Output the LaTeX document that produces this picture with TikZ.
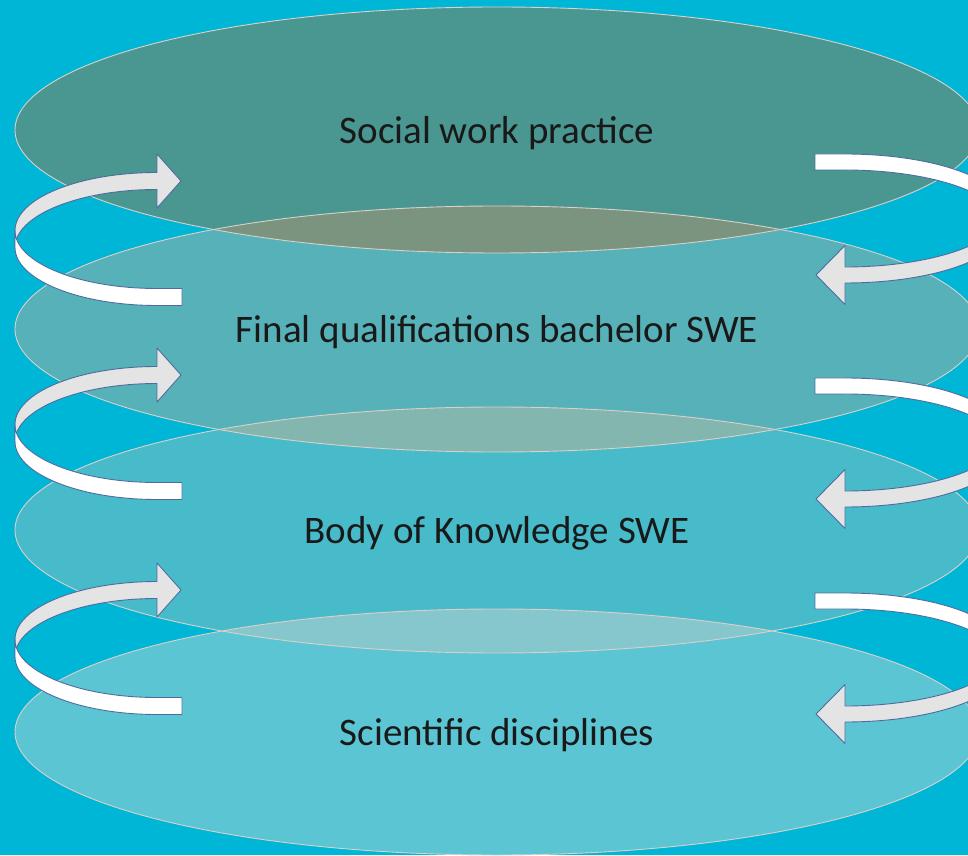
\documentclass[tikz,border=0pt]{standalone}
\usepackage{fontspec}
\setmainfont{Carlito}
\usepackage{xcolor}
\definecolor{oceanbg}{HTML}{00B6D6}
\definecolor{layA}{HTML}{4A9690}
\definecolor{layB}{HTML}{56B1B8}
\definecolor{layC}{HTML}{47BBCA}
\definecolor{layD}{HTML}{5BC5D3}
\definecolor{lensAB}{HTML}{7A9480}
\definecolor{lensBC}{HTML}{84B6B0}
\definecolor{lensCD}{HTML}{86C7CD}
\definecolor{rimline}{HTML}{D9D0CA}
\definecolor{bandgrey}{HTML}{E4E4E4}
\definecolor{bandedge}{HTML}{4E6C9E}
\newcommand{\layerfont}{\fontsize{39}{44}\selectfont}

\begin{document}
\begin{tikzpicture}[x=1pt, y=1pt, font=\layerfont,
  disc/.style={x radius=482, y radius=123},
  rim/.style={draw=rimline, line width=0.9pt},
  label/.style={text=black!90, yshift=-3pt},
  backband/.style={fill=bandgrey, draw=bandedge, line width=0.9pt, line join=round},
  frontband/.style={fill=white, draw=bandedge, line width=0.9pt, line join=round},
  lbow/.style={x radius=142, y radius=58},
  rbow/.style={x radius=160, y radius=56.5}]
\useasboundingbox (0,0) rectangle (968,855);
\clip (0,0) rectangle (968,855);
\fill[oceanbg] (0,0) rectangle (968,855);

% the four layers
\coordinate (cA) at (497,725);
\coordinate (cB) at (497,526);
\coordinate (cC) at (497,325);
\coordinate (cD) at (497,123);
\fill[layA] (cA) ellipse [disc];
\fill[layB] (cB) ellipse [disc];
\fill[layC] (cC) ellipse [disc];
\fill[layD] (cD) ellipse [disc];

% where two layers overlap
\begin{scope}
\clip (cA) ellipse [disc];
\fill[lensAB] (cB) ellipse [disc];
\end{scope}
\begin{scope}
\clip (cB) ellipse [disc];
\fill[lensBC] (cC) ellipse [disc];
\end{scope}
\begin{scope}
\clip (cC) ellipse [disc];
\fill[lensCD] (cD) ellipse [disc];
\end{scope}

\foreach \c in {cA,cB,cC,cD}
  \draw[rim] (\c) ellipse [disc];

\node[label] (practice) at (cA) {Social work practice};
\node[label] (quals) at (cB) {Final qualifications bachelor SWE};
\node[label] (body) at (cC) {Body of Knowledge SWE};
\node[label] (science) at (cD) {Scientific disciplines};

% loops on the left, pointing right
\foreach \s in {0,-194,-409} {
\begin{scope}[yshift=\s]
\path[backband] (157,665.5) arc[start angle=90, end angle=180, lbow] -- (15,624.5)
  arc[start angle=180, end angle=90, lbow] -- (157,701) -- (181,674) -- (157,647) -- cycle;
\path[frontband] (15,624.5) arc[start angle=180, end angle=270, lbow] -- (182,566.5)
  -- (182,549.5) -- (157,549.5) arc[start angle=270, end angle=180, lbow] -- cycle;
\end{scope}
}

% loops on the right, pointing left
\foreach \s in {0,-224,-439} {
\begin{scope}[yshift=\s]
\path[frontband] (815,701) -- (845,701) arc[start angle=90, end angle=0, rbow]
  -- (1005,628.5) arc[start angle=0, end angle=90, rbow] -- (815,685) -- cycle;
\path[backband] (1005,644.5) arc[start angle=0, end angle=-90, rbow] -- (845,609.5)
  -- (816,580) -- (845,550.5) -- (845,572) arc[start angle=-90, end angle=0, rbow] -- cycle;
\end{scope}
}
\end{tikzpicture}
\end{document}
